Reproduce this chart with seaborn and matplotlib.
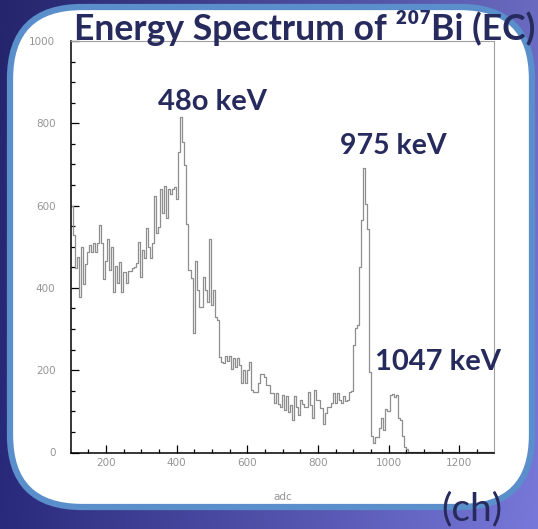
import numpy as np
import pandas as pd
import matplotlib
matplotlib.use("Agg")
import matplotlib.pyplot as plt
from matplotlib.patches import FancyBboxPatch
import seaborn as sns

# ---- histogram contents (counts per bin, bins of equal width) ----
bin_start = 100.0
bin_width = 5.75
counts = [
    599, 529, 448, 476, 379, 500, 409, 458, 488, 504,
    488, 510, 488, 508, 553, 508, 421, 465, 518, 444,
    500, 391, 454, 413, 462, 389, 438, 413, 442, 442,
    448, 452, 461, 512, 426, 492, 472, 546, 500, 472,
    510, 623, 533, 549, 640, 581, 648, 569, 640, 628,
    640, 646, 616, 731, 815, 754, 699, 555, 444, 425,
    290, 466, 395, 353, 353, 426, 396, 366, 520, 358,
    396, 330, 322, 233, 221, 218, 234, 223, 235, 204,
    230, 207, 229, 212, 168, 200, 168, 200, 221, 152,
    146, 148, 168, 191, 191, 184, 164, 164, 144, 144,
    121, 144, 119, 111, 140, 103, 137, 99, 115, 79,
    138, 111, 91, 127, 119, 111, 110, 148, 115, 83,
    152, 127, 127, 107, 69, 95, 111, 111, 121, 144,
    121, 145, 127, 120, 138, 125, 128, 146, 150, 261,
    302, 310, 452, 565, 692, 603, 543, 196, 40, 22,
    38, 38, 60, 85, 55, 105, 100, 140, 142, 135,
    140, 85, 80, 40, 14, 8, 2, 2, 2, 2,
    2, 2, 2, 2, 2, 2, 2, 2, 2, 2,
    2, 2, 2, 2, 2, 2, 2, 2, 2, 2,
    2, 2, 2, 2, 2, 2, 2, 2, 2, 2,
    2, 2, 2, 2, 2, 2, 2, 2, 2,
]
x_ticks = [200, 400, 600, 800, 1000, 1200]
y_ticks = [0, 200, 400, 600, 800, 1000]
title_text = "Energy Spectrum of \u00b2\u2070\u2077Bi (EC)"
peak_labels = ["48o keV", "975 keV", "1047 keV"]
unit_text = "(ch)"
x_label = "adc"

sns.set_theme(style="ticks")
plt.rcParams["font.family"] = ["DejaVu Sans"]

W, H = 538, 529
fig = plt.figure(figsize=(W / 100, H / 100), dpi=100)

# ---- slide background: blue/violet gradient with a white rounded panel ----
bg = fig.add_axes([0, 0, 1, 1], zorder=0)
xx = np.linspace(0, 1, W)[None, :, None]
yy = np.linspace(0, 1, H)[:, None, None]
left_c = np.array([0x2a, 0x2a, 0x7c]) / 255
right_c = np.array([0x78, 0x78, 0xda]) / 255
grad = left_c + (right_c - left_c) * xx
grad = grad * (0.88 + 0.12 * yy)
bg.imshow(np.clip(grad, 0, 1), extent=(0, W, H, 0), aspect="auto")
bg.set_xlim(0, W)
bg.set_ylim(H, 0)
bg.axis("off")
panel = FancyBboxPatch((10, 7), 522, 500,
                       boxstyle="round,pad=0,rounding_size=72",
                       facecolor="white", edgecolor="#5a8fcb", linewidth=4.5)
bg.add_patch(panel)

# ---- histogram axes ----
ax = fig.add_axes([70.7 / W, 1 - 452.5 / H, (494.5 - 70.7) / W, (452.5 - 41) / H],
                  zorder=2)
ax.set_facecolor("none")
n_bins = len(counts)
centers = bin_start + bin_width * (np.arange(n_bins) + 0.5)
spectrum = pd.DataFrame({"adc": centers, "n": counts})
sns.histplot(data=spectrum, x="adc", weights="n", binwidth=bin_width,
             binrange=(bin_start, bin_start + bin_width * n_bins),
             element="step", fill=False, color="#8e8e8e", linewidth=0.9, ax=ax)
ax.set_xlim(100, 1300)
ax.set_ylim(0, 1000)
ax.set_xticks(x_ticks)
ax.set_yticks(y_ticks)
ax.set_xticks(np.arange(150, 1300, 50), minor=True)
ax.set_yticks(np.arange(50, 1000, 50), minor=True)
ax.tick_params(which="both", direction="in", top=False, right=False,
               colors="black", labelcolor="#949494", labelsize=7.5, width=0.9)
ax.tick_params(which="major", length=5.5)
ax.tick_params(which="minor", length=3)
ax.tick_params(axis="y", pad=11)
ax.tick_params(axis="x", pad=4)
ax.set_ylabel("")
ax.set_xlabel(x_label, color="#949494", fontsize=7.5, labelpad=17)
for side in ("left", "bottom"):
    ax.spines[side].set_color("black")
    ax.spines[side].set_linewidth(1.1)
for side in ("top", "right"):
    ax.spines[side].set_color("#a0a0a0")
    ax.spines[side].set_linewidth(0.8)

# ---- slide texts ----
navy = "#262a5c"
fig.text(74 / W, 1 - 40.5 / H, title_text, ha="left", va="baseline",
         fontsize=25.6, fontweight="bold", color=navy,
         family=["Lato", "DejaVu Sans"], zorder=5)
label_pos = [(158, 110), (340, 154), (375, 370)]
label_size = [21, 20.5, 21]
for txt, (px, py), fs in zip(peak_labels, label_pos, label_size):
    fig.text(px / W, 1 - py / H, txt, ha="left", va="baseline",
             fontsize=fs, fontweight="bold", color=navy,
             family=["Lato", "DejaVu Sans"], zorder=5)
fig.text(441 / W, 1 - 520 / H, unit_text, ha="left", va="baseline",
         fontsize=28, color=navy, family=["Lato", "DejaVu Sans"], zorder=5)

fig.savefig("out.png", dpi=100)
